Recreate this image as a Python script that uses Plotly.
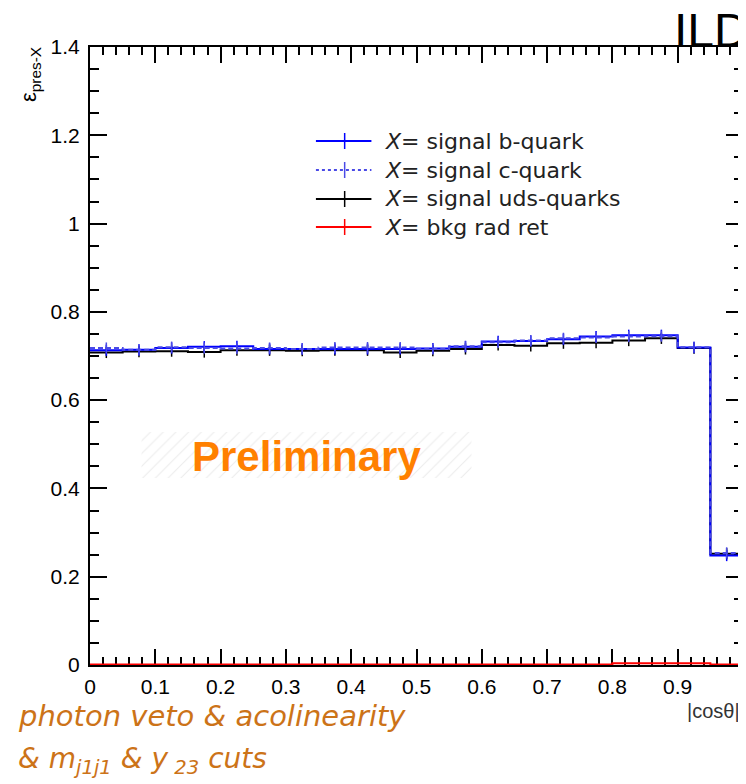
import plotly.graph_objects as go

# ---------------- data ----------------
bin_edges = [i * 0.05 for i in range(21)]
b_quark = [0.713, 0.714, 0.718, 0.721, 0.722, 0.716, 0.716, 0.716, 0.716, 0.716,
           0.717, 0.721, 0.733, 0.734, 0.738, 0.744, 0.747, 0.747, 0.719, 0.248]
c_quark = [0.718, 0.714, 0.720, 0.718, 0.717, 0.718, 0.716, 0.719, 0.719, 0.719,
           0.716, 0.722, 0.731, 0.735, 0.740, 0.742, 0.744, 0.745, 0.720, 0.254]
uds_quark = [0.708, 0.710, 0.711, 0.709, 0.713, 0.713, 0.712, 0.713, 0.713, 0.708,
             0.712, 0.716, 0.725, 0.723, 0.729, 0.730, 0.735, 0.740, 0.718, 0.252]
bkg_radret = [0.001] * 16 + [0.004, 0.004, 0.004, 0.001]

series = [
    ("<i>X</i>= signal uds-quarks", uds_quark, "black", "solid", True),
    ("<i>X</i>= signal b-quark", b_quark, "#0000ff", "solid", True),
    ("<i>X</i>= signal c-quark", c_quark, "#4a4ae6", "5px,3px", True),
    ("<i>X</i>= bkg rad ret", bkg_radret, "#ff0000", "solid", False),
]
legend_order = [1, 2, 0, 3]

# ---------------- layout geometry ----------------
# page body has an 8px margin; helpers take screen pixel positions
FIG_W, FIG_H = 746, 784
OFF = 8
L, T, B = 82, 39, 657          # figure coordinates of plot area
PW = 659                       # plot width (x from 0 to 1)
PH = B - T


def px(Xs):
    return (Xs - OFF - L) / PW


def py(Ys):
    return (B - (Ys - OFF)) / PH


fig = go.Figure()

# hatched background behind "Preliminary" (paper-like overlay axes)
hx0, hx1, hy0, hy1 = 142, 475, 432, 478
fig.add_trace(go.Scatter(
    x=[px(hx0), px(hx1), px(hx1), px(hx0), px(hx0)],
    y=[py(hy1), py(hy1), py(hy0), py(hy0), py(hy1)],
    xaxis="x2", yaxis="y2", mode="lines", line=dict(width=0),
    fill="toself", fillcolor="rgba(0,0,0,0)",
    fillpattern=dict(shape="/", size=9, solidity=0.12, fgcolor="#d9d9d9", bgcolor="white"),
    hoverinfo="skip", showlegend=False,
))

centers = [(bin_edges[i] + bin_edges[i + 1]) / 2 for i in range(20)]
for name, vals, color, dash, errs in series:
    fig.add_trace(go.Scatter(
        x=bin_edges, y=vals + [vals[-1]], mode="lines", line_shape="hv",
        line=dict(color=color, width=2, dash=dash), showlegend=False, hoverinfo="skip",
    ))
    if errs:
        fig.add_trace(go.Scatter(
            x=centers, y=vals, mode="markers",
            marker=dict(symbol="line-ns", size=8, line=dict(color=color, width=1.5)),
            showlegend=False, hoverinfo="skip",
        ))

tickfont = dict(family="Liberation Sans, Arial, sans-serif", size=21, color="black")
fig.update_layout(
    width=FIG_W, height=FIG_H,
    margin=dict(l=L, r=FIG_W - L - PW, t=T, b=FIG_H - B, pad=0),
    paper_bgcolor="white", plot_bgcolor="white",
    showlegend=False,
    xaxis=dict(
        range=[0, 1], tick0=0, dtick=0.1, ticks="inside", ticklen=16,
        tickwidth=1.5, tickcolor="black", showline=True, linewidth=2, linecolor="black",
        mirror="ticks", showgrid=False, zeroline=False, tickfont=tickfont,
        minor=dict(ticks="inside", dtick=0.02, ticklen=8, tickwidth=1.5, tickcolor="black", showgrid=False),
        layer="below traces", ticklabelstandoff=2,
    ),
    yaxis=dict(
        range=[0, 1.4], tick0=0, dtick=0.2, ticks="inside", ticklen=17,
        tickwidth=1.5, tickcolor="black", showline=True, linewidth=2, linecolor="black",
        mirror="ticks", showgrid=False, zeroline=False, tickfont=tickfont,
        minor=dict(ticks="inside", dtick=0.05, ticklen=9, tickwidth=1.5, tickcolor="black", showgrid=False),
        layer="below traces", ticklabelstandoff=4,
    ),
    xaxis2=dict(range=[0, 1], overlaying="x", visible=False),
    yaxis2=dict(range=[0, 1], overlaying="y", visible=False),
)

# ---------------- custom legend ----------------
rows = [141, 170, 199, 227]
shapes = []
annotations = []
for row, idx in zip(rows, legend_order):
    name, vals, color, dash, errs = series[idx]
    shapes.append(dict(type="line", xref="paper", yref="paper",
                       x0=px(318), x1=px(374), y0=py(row), y1=py(row),
                       line=dict(color=color, width=2, dash="dot" if dash != "solid" else "solid")))
    shapes.append(dict(type="line", xref="paper", yref="paper",
                       x0=px(347), x1=px(347), y0=py(row - 8), y1=py(row + 8),
                       line=dict(color=color, width=1.5)))
    annotations.append(dict(xref="paper", yref="paper", x=px(386), y=py(row),
                            xanchor="left", yanchor="middle", showarrow=False, text=name,
                            font=dict(family="DejaVu Sans, sans-serif", size=22, color="#222")))

# texts
annotations += [
    dict(xref="paper", yref="paper", x=px(308), y=py(456), xanchor="center", yanchor="middle",
         showarrow=False, text="<b>Preliminary</b>",
         font=dict(family="Liberation Sans, Arial, sans-serif", size=42, color="#ff8000")),
    dict(xref="paper", yref="paper", x=px(677), y=1, xanchor="left", yanchor="bottom", yshift=-12,
         showarrow=False, text="ILD",
         font=dict(family="Liberation Sans, Arial, sans-serif", size=48, color="black")),
    dict(xref="paper", yref="paper", x=px(748), y=py(711), xanchor="right", yanchor="middle",
         showarrow=False, text="|cos\u03b8|",
         font=dict(family="Liberation Sans, Arial, sans-serif", size=20, color="#333")),
    dict(xref="paper", yref="paper", x=px(30), y=py(45), xanchor="center", yanchor="top",
         textangle=-90, showarrow=False, text="\u03b5<sub>pres-X</sub>",
         font=dict(family="Liberation Sans, Arial, sans-serif", size=22, color="black")),
    dict(xref="paper", yref="paper", x=px(15), y=py(716), xanchor="left", yanchor="middle",
         showarrow=False, text="<i>photon veto &amp; acolinearity</i>",
         font=dict(family="DejaVu Sans, sans-serif", size=29, color="#cc7318")),
    dict(xref="paper", yref="paper", x=px(15), y=py(760), xanchor="left", yanchor="middle",
         showarrow=False, text="<i>&amp; m<sub>j1j1</sub> &amp; y<sub> 23</sub> cuts</i>",
         font=dict(family="DejaVu Sans, sans-serif", size=28, color="#cc7318")),
]

fig.update_layout(shapes=shapes, annotations=annotations)
fig.write_html("out.html")
